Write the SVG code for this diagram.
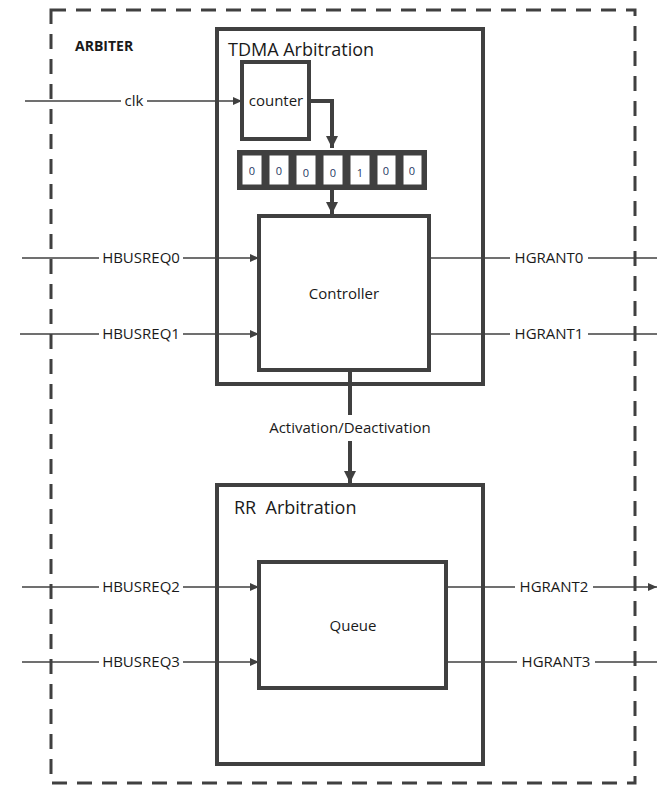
<svg xmlns="http://www.w3.org/2000/svg" width="657" height="786" viewBox="0 0 657 786">
<defs>
<marker id="arr" markerWidth="10" markerHeight="10" refX="9" refY="5" orient="auto" markerUnits="userSpaceOnUse">
<path d="M0,1 L9,5 L0,9 Z" fill="#404040"/>
</marker>
<marker id="arrb" markerWidth="14" markerHeight="14" refX="12" refY="7" orient="auto" markerUnits="userSpaceOnUse">
<path d="M0,1 L12,7 L0,13 Z" fill="#404040"/>
</marker>
<style>
.blk{fill:#fff;stroke:#404040;stroke-width:4}
.sig{stroke:#404040;stroke-width:1.6;fill:none}
.thk{stroke:#404040;stroke-width:4;fill:none}
.lbl{font-family:"Open Sans","Liberation Sans",sans-serif;font-size:15px;fill:#1a1a1a;text-anchor:middle}
.ttl{font-family:"Open Sans","Liberation Sans",sans-serif;font-size:18px;fill:#1a1a1a}
.bg{fill:#fff}
.cell{fill:#fff;stroke:#404040;stroke-width:3}
.dig{font-family:"Open Sans","Liberation Sans",sans-serif;font-size:11px;fill:#1f3864;text-anchor:middle}
</style>
</defs>
<rect width="657" height="786" fill="#fff"/>
<g id="arbiter">
<rect x="51" y="10" width="584" height="773" fill="none" stroke="#404040" stroke-width="3" stroke-dasharray="15,10"/>
<text x="75" y="51" font-family="Open Sans, Liberation Sans, sans-serif" font-size="14" font-weight="bold" fill="#1a1a1a">ARBITER</text>
</g>
<g id="tdma">
<rect class="blk" x="217" y="29" width="266" height="355"/>
<text class="ttl" x="228" y="56">TDMA Arbitration</text>
</g>
<g id="rr">
<rect class="blk" x="217" y="485" width="266" height="279"/>
<text class="ttl" x="234" y="514" xml:space="preserve">RR  Arbitration</text>
</g>
<g id="connectors">
<line class="sig" x1="25" y1="101" x2="242" y2="101" marker-end="url(#arr)"/>
<rect class="bg" x="121" y="92" width="26" height="18"/>
<text class="lbl" x="134" y="106">clk</text>
<polyline class="thk" points="309,101 332,101 332,148" marker-end="url(#arrb)"/>
<line class="thk" x1="332" y1="190" x2="332" y2="214" marker-end="url(#arrb)"/>
<line class="sig" x1="22" y1="258" x2="259" y2="258" marker-end="url(#arr)"/>
<rect class="bg" x="99" y="249" width="84" height="18"/>
<text class="lbl" x="141" y="263">HBUSREQ0</text>
<line class="sig" x1="20" y1="334" x2="259" y2="334" marker-end="url(#arr)"/>
<rect class="bg" x="99" y="325" width="84" height="18"/>
<text class="lbl" x="141" y="339">HBUSREQ1</text>
<line class="sig" x1="429" y1="258" x2="657" y2="258"/>
<rect class="bg" x="510" y="249" width="78" height="18"/>
<text class="lbl" x="549" y="263">HGRANT0</text>
<line class="sig" x1="429" y1="334" x2="657" y2="334"/>
<rect class="bg" x="510" y="325" width="78" height="18"/>
<text class="lbl" x="549" y="339">HGRANT1</text>
<line class="thk" x1="350" y1="370" x2="350" y2="483" marker-end="url(#arrb)"/>
<rect class="bg" x="262" y="415" width="176" height="26"/>
<text class="lbl" x="350" y="433">Activation/Deactivation</text>
<line class="sig" x1="22" y1="587" x2="259" y2="587" marker-end="url(#arr)"/>
<rect class="bg" x="99" y="578" width="84" height="18"/>
<text class="lbl" x="141" y="592">HBUSREQ2</text>
<line class="sig" x1="22" y1="662" x2="259" y2="662" marker-end="url(#arr)"/>
<rect class="bg" x="99" y="653" width="84" height="18"/>
<text class="lbl" x="141" y="667">HBUSREQ3</text>
<line class="sig" x1="446" y1="587" x2="657" y2="587" marker-end="url(#arr)"/>
<rect class="bg" x="515" y="578" width="78" height="18"/>
<text class="lbl" x="554" y="592">HGRANT2</text>
<line class="sig" x1="446" y1="662" x2="657" y2="662"/>
<rect class="bg" x="517" y="653" width="78" height="18"/>
<text class="lbl" x="556" y="667">HGRANT3</text>
</g>
<g id="counter">
<rect class="blk" x="242" y="62" width="67" height="77"/>
<text class="lbl" x="276" y="106">counter</text>
</g>
<g id="register">
<rect x="237" y="150" width="190" height="40" fill="#404040"/>
<rect class="cell" x="241" y="154" width="22" height="32"/>
<rect class="cell" x="268" y="154" width="22" height="32"/>
<rect class="cell" x="295" y="154" width="22" height="32"/>
<rect class="cell" x="322" y="154" width="22" height="32"/>
<rect class="cell" x="349" y="154" width="22" height="32"/>
<rect class="cell" x="376" y="154" width="21" height="32"/>
<rect class="cell" x="402" y="154" width="21" height="32"/>
<text class="dig" x="252" y="175">0</text>
<text class="dig" x="279" y="175" fill="#5a3a20">0</text>
<text class="dig" x="306" y="177">0</text>
<text class="dig" x="333" y="177">0</text>
<text class="dig" x="360" y="177">1</text>
<text class="dig" x="386" y="175">0</text>
<text class="dig" x="412" y="175">0</text>
</g>
<g id="controller">
<rect class="blk" x="259" y="216" width="170" height="154"/>
<text class="lbl" x="344" y="299">Controller</text>
</g>
<g id="queue">
<rect class="blk" x="259" y="562" width="187" height="126"/>
<text class="lbl" x="353" y="631">Queue</text>
</g>
</svg>
